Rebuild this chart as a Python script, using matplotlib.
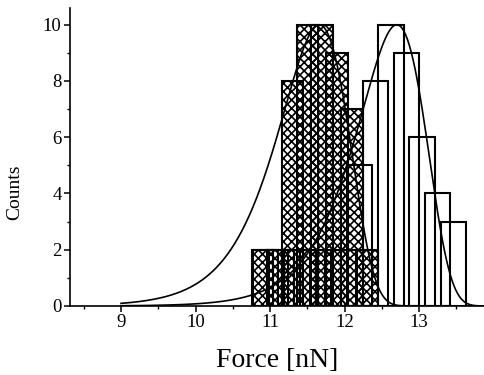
import numpy as np
import matplotlib
matplotlib.use("Agg")
from matplotlib import pyplot as plt

# hatched histogram (lower forces)
hatch_centers = [10.9, 11.1, 11.3, 11.5, 11.7, 11.9, 12.1, 12.3]
hatch_counts = [2, 2, 8, 10, 10, 9, 7, 2]

# open histogram (higher forces)
open_centers = [10.94, 11.15, 11.36, 11.57, 11.78, 11.99,
                12.2, 12.41, 12.62, 12.83, 13.04, 13.25, 13.46]
open_counts = [2, 2, 2, 2, 2, 2, 5, 8, 10, 9, 6, 4, 3]

# fitted curves: peak position, peak height, width
fit_hatch = (11.66, 10.0, 0.47)
fit_open = (12.70, 10.0, 0.46)

plt.rcParams['font.family'] = ['Liberation Serif', 'DejaVu Serif']
plt.rcParams['hatch.linewidth'] = 1.2


def gumbel_min(x, mu, h, beta):
    z = (x - mu) / beta
    return h * np.exp(1 + z - np.exp(z))


fig = plt.figure(figsize=(4.84, 3.75), dpi=100)
ax = fig.add_axes([0.1446, 0.184, 0.8554, 0.795])

ax.bar(open_centers, open_counts, width=0.34, fill=False,
       edgecolor='black', linewidth=1.5)
ax.bar(hatch_centers, hatch_counts, width=0.29, fill=False,
       edgecolor='black', linewidth=1.5, hatch='xxxx')

xs = np.linspace(9.0, 13.87, 400)
ax.plot(xs, gumbel_min(xs, *fit_hatch), color='black', lw=1.2)
ax.plot(xs, gumbel_min(xs, *fit_open), color='black', lw=1.2)

ax.set_xlim(8.315, 13.87)
ax.set_ylim(0, 10.6)
ax.set_xticks([9, 10, 11, 12, 13])
ax.set_xticks(np.arange(8.5, 14, 1.0), minor=True)
ax.set_yticks([0, 2, 4, 6, 8, 10])
ax.set_yticks([1, 3, 5, 7, 9], minor=True)
ax.tick_params(which='major', direction='out', length=4, width=1.1,
               labelsize=13.5, pad=2)
ax.tick_params(which='minor', direction='out', length=2.5, width=1.0)

for s in ['top', 'right']:
    ax.spines[s].set_visible(False)
for s in ['left', 'bottom']:
    ax.spines[s].set_linewidth(1.2)

ax.set_ylabel('Counts', fontsize=14)
ax.yaxis.set_label_coords(-0.112, 0.38)
ax.set_xlabel('Force [nN]', fontsize=20, labelpad=12)

fig.savefig('out.png', dpi=100)
